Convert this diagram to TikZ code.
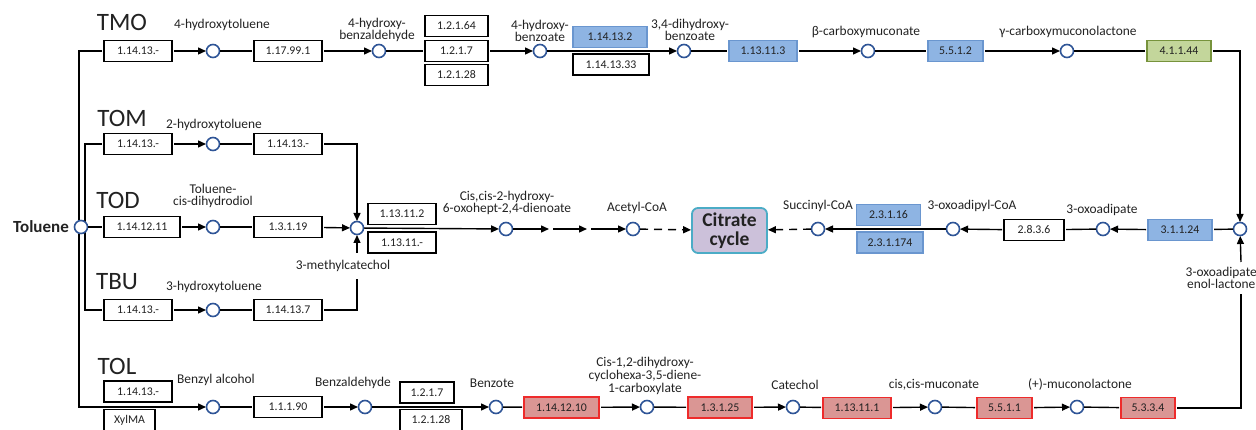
\documentclass[tikz,border=0pt]{standalone}
\usepackage{fontspec}
\setmainfont{Carlito}
\usetikzlibrary{arrows.meta}
\definecolor{cblue}{HTML}{8EB4E3}
\definecolor{cblueb}{HTML}{6A96CF}
\definecolor{cred}{HTML}{DA9694}
\definecolor{credb}{HTML}{EE2B2B}
\definecolor{cgreen}{HTML}{C3D69B}
\definecolor{cgreenb}{HTML}{77933C}
\definecolor{ccit}{HTML}{CCC1DA}
\definecolor{ccitb}{HTML}{4BACC6}
\definecolor{ccirc}{HTML}{2F5597}
\definecolor{ctxt}{HTML}{222222}
\begin{document}
\begin{tikzpicture}[x=1pt,y=-1pt,
  enz/.style={draw=black, line width=1.2pt, fill=white, minimum height=21pt,
    minimum width=#1pt, inner sep=0pt, outer sep=2pt, text=ctxt,
    font=\fontsize{11.8}{11.8}\selectfont},
  enz/.default=68,
  eblue/.style={fill=cblue, draw=cblueb},
  ered/.style={fill=cred, draw=credb},
  egreen/.style={fill=cgreen, draw=cgreenb},
  cpd/.style={circle, draw=ccirc, line width=1.6pt, fill=white,
    minimum size=13pt, inner sep=0pt, outer sep=0.5pt},
  lbl/.style={font=\fontsize{13.4}{12.6}\selectfont, align=center,
    inner sep=0pt, text=ctxt},
  big/.style={font=\fontsize{25}{25}\selectfont, inner sep=0pt, text=ctxt},
  ln/.style={line width=1.4pt},
  arr/.style={ln, -{Triangle[length=8pt,width=7pt]}},
  dsh/.style={arr, dash pattern=on 8pt off 6pt}
]
\useasboundingbox (0,0) rectangle (1256,430);

% ---------- pathway labels ----------
\node[big] (tTMO) at (122,22) {TMO};
\node[big] (tTOM) at (122,118) {TOM};
\node[big] (tTOD) at (118,200) {TOD};
\node[big] (tTBU) at (117,282) {TBU};
\node[big] (tTOL) at (117,366) {TOL};
\node[font=\bfseries\fontsize{17}{17}\selectfont, anchor=east, inner sep=0pt, text=ctxt] (tolL) at (69,227) {Toluene};

% ---------- TMO row ----------
\node[enz] (m1) at (138,51) {1.14.13.-};
\node[cpd] (cm1) at (213,51) {};
\node[lbl] (lm1) at (222,25) {4-hydroxytoluene};
\node[enz] (m2) at (288,51) {1.17.99.1};
\node[cpd] (cm2) at (379,51) {};
\node[lbl] (lm2) at (377,30) {4-hydroxy-\\benzaldehyde};
\node[enz=63] (m3a) at (456.5,26) {1.2.1.64};
\node[enz=63] (m3b) at (456.5,51) {1.2.1.7};
\node[enz=63] (m3c) at (456.5,75) {1.2.1.28};
\node[cpd] (cm3) at (540,51) {};
\node[lbl] (lm3) at (540,31) {4-hydroxy-\\benzoate};
\node[enz=74,eblue] (m4a) at (610,37) {1.14.13.2};
\node[enz=76] (m4b) at (611,64.5) {1.14.13.33};
\node[cpd] (cm4) at (684,51) {};
\node[lbl] (lm4) at (690,30) {3,4-dihydroxy-\\benzoate};
\node[enz,eblue] (m5) at (763,51) {1.13.11.3};
\node[cpd] (cm5) at (868,51) {};
\node[lbl] (lm5) at (866,32) {β-carboxymuconate};
\node[enz=55,eblue] (m6) at (955.5,51) {5.5.1.2};
\node[cpd] (cm6) at (1067,51) {};
\node[lbl] (lm6) at (1068,32) {γ-carboxymuconolactone};
\node[enz=64,egreen] (m7) at (1179,51) {4.1.1.44};

% ---------- TOM row ----------
\node[enz] (om1) at (138,144) {1.14.13.-};
\node[cpd] (com1) at (213,144) {};
\node[lbl] (lom1) at (214,125) {2-hydroxytoluene};
\node[enz] (om2) at (288,144) {1.14.13.-};

% ---------- TOD row ----------
\node[enz=76] (d1) at (142,227) {1.14.12.11};
\node[cpd] (cd1) at (213,227) {};
\node[lbl] (ld1) at (213,196) {Toluene-\\cis-dihydrodiol};
\node[enz] (d2) at (288,227) {1.3.1.19};

% ---------- TBU row ----------
\node[enz] (bu1) at (138,310) {1.14.13.-};
\node[cpd] (cbu1) at (213,310) {};
\node[lbl] (lbu1) at (214,287) {3-hydroxytoluene};
\node[enz] (bu2) at (288,310) {1.14.13.7};

% ---------- 3-methylcatechol and central row ----------
\node[cpd] (c3mc) at (357,228) {};
\node[lbl] (l3mc) at (343,266) {3-methylcatechol};
\node[enz] (k1a) at (402,214) {1.13.11.2};
\node[enz] (k1b) at (402,242.5) {1.13.11.-};
\node[cpd] (ck) at (506,229) {};
\node[lbl] (lk) at (507,203) {Cis,cis-2-hydroxy-\\6-oxohept-2,4-dienoate};
\node[cpd] (cac) at (633,229) {};
\node[lbl] (lac) at (637,208) {Acetyl-CoA};
\node[draw=ccitb, fill=ccit, line width=1.8pt, rounded corners=6pt,
  minimum width=75pt, minimum height=45pt, inner sep=0pt, align=center,
  font=\bfseries\fontsize{19.5}{19}\selectfont, text=ctxt] (cit) at (729.5,230.5) {Citrate\\cycle};
\node[cpd] (csuc) at (818,229) {};
\node[lbl] (lsuc) at (818,206) {Succinyl-CoA};
\node[enz=64,eblue] (r1a) at (888.5,215) {2.3.1.16};
\node[enz=66,eblue] (r1b) at (890,242.5) {2.3.1.174};
\node[cpd] (coac) at (953,229) {};
\node[lbl] (loac) at (972,206) {3-oxoadipyl-CoA};
\node[enz=60] (r2) at (1034,230) {2.8.3.6};
\node[cpd] (coa) at (1103,229) {};
\node[lbl] (loa) at (1102,210) {3-oxoadipate};
\node[enz=64,eblue] (r3) at (1180,230) {3.1.1.24};
\node[cpd] (cR) at (1240,229) {};
\node[lbl, anchor=east] (lenol) at (1257,278) {3-oxoadipate\\enol-lactone};

% ---------- TOL row ----------
\node[enz] (ol1a) at (138,391.5) {1.14.13.-};
\node[enz=51] (ol1b) at (129.5,420) {XylMA};
\node[cpd] (col1) at (213,407) {};
\node[lbl] (lol1) at (216,380) {Benzyl alcohol};
\node[enz] (ol2) at (288,407) {1.1.1.90};
\node[cpd] (col2) at (365,407) {};
\node[lbl] (lol2) at (353,383) {Benzaldehyde};
\node[enz=54] (ol3a) at (427,392.5) {1.2.1.7};
\node[enz=62] (ol3b) at (431,420) {1.2.1.28};
\node[cpd] (col3) at (496,407) {};
\node[lbl] (lol3) at (492,383) {Benzote};
\node[enz=75,ered] (l1) at (561.5,407.5) {1.14.12.10};
\node[cpd] (cl1) at (647,407) {};
\node[lbl] (ll1) at (645,376) {Cis-1,2-dihydroxy-\\cyclohexa-3,5-diene-\\1-carboxylate};
\node[enz=64,ered] (l2) at (720,407.5) {1.3.1.25};
\node[cpd] (cl2) at (793,407) {};
\node[lbl] (ll2) at (795,385) {Catechol};
\node[enz=68,ered] (l3) at (857,408) {1.13.11.1};
\node[cpd] (cl3) at (935,407) {};
\node[lbl] (ll3) at (934,385) {cis,cis-muconate};
\node[enz=55,ered] (l4) at (1004.5,408) {5.5.1.1};
\node[cpd] (cl4) at (1077,407) {};
\node[lbl] (ll4) at (1080,385) {(+)-muconolactone};
\node[enz=54,ered] (l5) at (1148,408) {5.3.3.4};

% ---------- helper coordinates ----------
\coordinate (oB) at (79,407);
\coordinate (iB) at (85,310);
\coordinate (bu3) at (357,279);
\coordinate (bu4) at (357,253);
\coordinate (q1) at (549,229);
\coordinate (q2) at (553,229);
\coordinate (q3) at (587,229);
\coordinate (q4) at (591,229);
\coordinate (e1) at (1241,262);
\coordinate (e2) at (1241,294);

% ---------- left tree (drawn below Toluene circle) ----------
\draw[arr] (m1.west) -| (oB) -- (col1);
\draw[ln] (om1.west) -| (iB) -- (bu1.west);
\node[cpd] (tol) at (81,227) {};
\draw[ln] (tol) -- (d1);

% ---------- TMO connectors ----------
\draw[arr] (m1) -- (cm1);
\draw[ln] (cm1) -- (m2);
\draw[arr] (m2) -- (cm2);
\draw[ln] (cm2) -- (m3b);
\draw[arr] (m3b) -- (cm3);
\draw[arr] (cm3) -- (cm4);
\draw[ln] (cm4) -- (m5);
\draw[arr] (m5) -- (cm5);
\draw[ln] (cm5) -- (m6);
\draw[arr] (m6) -- (cm6);
\draw[ln] (cm6) -- (m7);
\draw[arr] (m7) -| (cR);

% ---------- TOM / TOD / TBU connectors ----------
\draw[arr] (om1) -- (com1);
\draw[ln] (com1) -- (om2);
\draw[arr] (om2) -| (c3mc);
\draw[arr] (d1) -- (cd1);
\draw[ln] (cd1) -- (d2);
\draw[arr] (d2) -- (c3mc);
\draw[arr] (bu1) -- (cbu1);
\draw[ln] (cbu1) -- (bu2);
\draw[ln] (bu2) -| (bu3);
\draw[arr] (bu4) -- (c3mc);

% ---------- central row ----------
\draw[arr] (c3mc) -- (ck);
\draw[arr] (ck) -- (q1);
\draw[arr] (q2) -- (q3);
\draw[arr] (q4) -- (cac);
\draw[dsh] (cac) -- (cit);
\draw[dsh] (csuc) -- (cit);
\draw[arr] (coac) -- (csuc);
\draw[arr] (r2) -- (coac);
\draw[ln] (coa) -- (r2);
\draw[arr] (r3) -- (coa);
\draw[ln] (cR) -- (r3);
\draw[arr] (e1) -- (cR);

% ---------- TOL row connectors ----------
\draw[ln] (col1) -- (ol2);
\draw[arr] (ol2) -- (col2);
\draw[arr] (col2) -- (col3);
\draw[ln] (col3) -- (l1);
\draw[arr] (l1) -- (cl1);
\draw[ln] (cl1) -- (l2);
\draw[arr] (l2) -- (cl2);
\draw[ln] (cl2) -- (l3);
\draw[arr] (l3) -- (cl3);
\draw[ln] (cl3) -- (l4);
\draw[arr] (l4) -- (cl4);
\draw[ln] (cl4) -- (l5);
\draw[ln] (l5) -| (e2);
\end{tikzpicture}
\end{document}
